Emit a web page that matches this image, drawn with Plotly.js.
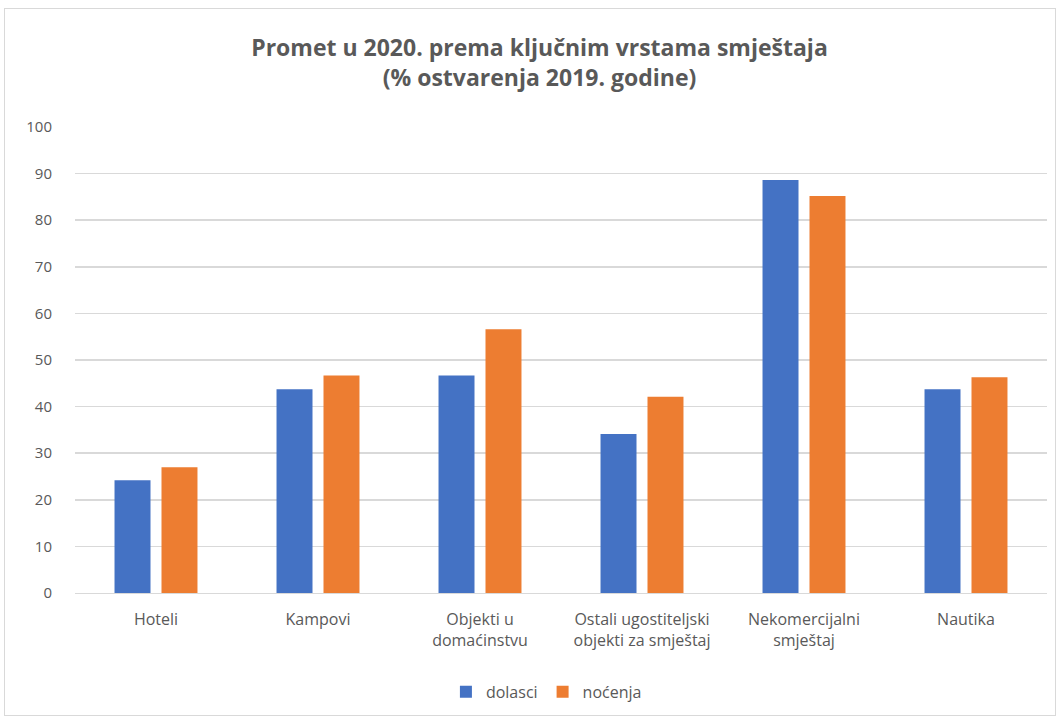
<!DOCTYPE html>
<html>
<head>
<meta charset="utf-8">
<script src="https://cdn.plot.ly/plotly-3.0.1.min.js"></script>
<style>
html,body{margin:0;padding:0;background:#fff;}
#frame{position:absolute;left:4px;top:8px;width:1052px;height:708px;border:1px solid #d9d9d9;box-sizing:border-box;}
#chart{position:absolute;left:0;top:0;width:1062px;height:722px;}
</style>
</head>
<body>
<div id="frame"></div>
<div id="chart"></div>
<script>
const categories = ["Hoteli", "Kampovi", "Objekti u<br>domaćinstvu", "Ostali ugostiteljski<br>objekti za smještaj", "Nekomercijalni<br>smještaj", "Nautika"];
const dolasci = [24.2, 43.7, 46.7, 34.1, 88.6, 43.7];
const nocenja = [27.0, 46.7, 56.6, 42.1, 85.2, 46.3];
const seriesNames = ["dolasci", "noćenja"];
const yTicks = [0, 10, 20, 30, 40, 50, 60, 70, 80, 90, 100];

const font = "'Open Sans', Roboto, sans-serif";
const traces = [
  {type: "bar", name: seriesNames[0], x: categories, y: dolasci, marker: {color: "#4472c4"}, hoverinfo: "y"},
  {type: "bar", name: seriesNames[1], x: categories, y: nocenja, marker: {color: "#ed7d31"}, hoverinfo: "y"}
];
const layout = {
  width: 1062, height: 722,
  paper_bgcolor: "rgba(0,0,0,0)", plot_bgcolor: "rgba(0,0,0,0)",
  margin: {l: 75, r: 15, t: 127, b: 129},
  font: {family: font, color: "#595959", size: 15},
  title: {text: "<b>Promet u 2020. prema ključnim vrstama smještaja<br>(% ostvarenja 2019. godine)</b>",
          x: 0.508, xanchor: "center", y: 0.922, yanchor: "middle",
          font: {family: font, size: 23, color: "#595959"}},
  barmode: "group", bargap: 0.42, bargroupgap: 0.234,
  xaxis: {showgrid: false, showline: true, linecolor: "#d9d9d9", linewidth: 1, ticks: "", ticklabelstandoff: 12, tickfont: {size: 16, color: "#595959"}, fixedrange: true},
  yaxis: {range: [0, 100], tickvals: yTicks, ticktext: yTicks.map(String), showgrid: true, gridcolor: "#d9d9d9", gridwidth: 1.5, zeroline: false, showline: false, ticks: "", ticklabelstandoff: 22, tickfont: {size: 15, color: "#595959"}, fixedrange: true},
  legend: {orientation: "h", x: 0.485, xanchor: "center", y: -0.212, yanchor: "middle", font: {size: 16, color: "#595959"}, itemwidth: 30, traceorder: "normal"},
  showlegend: true
};
Plotly.newPlot("chart", traces, layout, {displayModeBar: false, staticPlot: true});
</script>
</body>
</html>
